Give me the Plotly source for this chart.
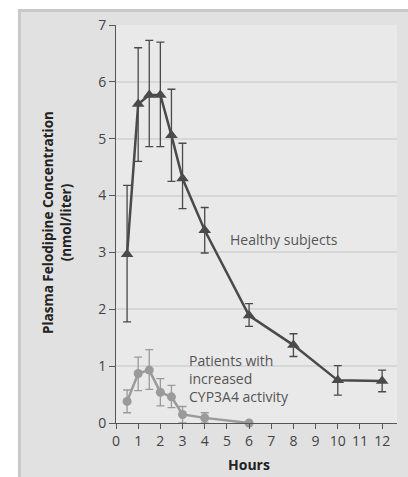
import plotly.graph_objects as go

hours_healthy = [0.5, 1, 1.5, 2, 2.5, 3, 4, 6, 8, 10, 12]
healthy = [2.97, 5.61, 5.77, 5.77, 5.06, 4.30, 3.39, 1.89, 1.37, 0.75, 0.74]
healthy_hi = [4.18, 6.60, 6.73, 6.70, 5.87, 4.92, 3.79, 2.10, 1.57, 1.01, 0.93]
healthy_lo = [1.78, 4.60, 4.86, 4.86, 4.25, 3.77, 2.99, 1.70, 1.17, 0.49, 0.55]

hours_pat = [0.5, 1, 1.5, 2, 2.5, 3, 4, 6]
patients = [0.38, 0.87, 0.93, 0.54, 0.46, 0.15, 0.09, 0.0]
patients_hi = [0.58, 1.16, 1.29, 0.78, 0.66, 0.29, 0.18, 0.0]
patients_lo = [0.18, 0.57, 0.59, 0.30, 0.27, 0.0, 0.0, 0.0]

x_ticks = list(range(0, 13))
y_ticks = list(range(0, 8))

FONT = "Open Sans"
W, H = 408, 477
L, R, T, B = 116, 11, 25, 54
pw, ph = W - L - R, H - T - B

def px_x(p):
    return (p - L) / pw

def px_y(p):
    return (H - B - p) / ph

fig = go.Figure()

fig.add_trace(go.Scatter(
    x=hours_pat, y=patients, mode="lines+markers",
    line=dict(color="#9a9a9a", width=2.5),
    marker=dict(symbol="circle", size=9, color="#9a9a9a"),
    error_y=dict(type="data", symmetric=False,
                 array=[h - v for h, v in zip(patients_hi, patients)],
                 arrayminus=[v - l for v, l in zip(patients, patients_lo)],
                 color="#9a9a9a", thickness=1.3, width=4),
    cliponaxis=False, showlegend=False))

fig.add_trace(go.Scatter(
    x=hours_healthy, y=healthy, mode="lines+markers",
    line=dict(color="#4a4a4a", width=2.5),
    marker=dict(symbol="triangle-up", size=11, color="#4a4a4a"),
    error_y=dict(type="data", symmetric=False,
                 array=[h - v for h, v in zip(healthy_hi, healthy)],
                 arrayminus=[v - l for v, l in zip(healthy, healthy_lo)],
                 color="#4a4a4a", thickness=1.3, width=4),
    cliponaxis=False, showlegend=False))

shapes = [
    dict(type="rect", xref="paper", yref="paper", layer="below",
         x0=px_x(19.5), x1=px_x(W + 10), y0=px_y(H + 10), y1=px_y(10.5),
         fillcolor="#e1e1e1", line=dict(color="#c9c9c9", width=3)),
    dict(type="rect", xref="paper", yref="paper", layer="below",
         x0=0, x1=1, y0=0, y1=1, fillcolor="#e9e9e9", line=dict(width=0)),
]

annotations = [
    dict(x=5.05, y=3.22, xref="x", yref="y", text="Healthy subjects",
         showarrow=False, xanchor="left", yanchor="middle",
         font=dict(family=FONT, size=14, color="#555555")),
    dict(x=3.2, y=0.79, xref="x", yref="y",
         text="Patients with<br>increased<br>CYP3A4 activity",
         showarrow=False, xanchor="left", yanchor="middle", align="left",
         font=dict(family=FONT, size=14, color="#555555")),
    dict(x=px_x(57), y=0.5025, xref="paper", yref="paper",
         text="<b>Plasma Felodipine Concentration<br>(nmol/liter)</b>",
         showarrow=False, textangle=-90, xanchor="center", yanchor="middle",
         font=dict(family=FONT, size=13.5, color="#222222")),
    dict(x=0.475, y=px_y(465), xref="paper", yref="paper",
         text="<b>Hours</b>", showarrow=False, xanchor="center", yanchor="middle",
         font=dict(family=FONT, size=14, color="#222222")),
]

fig.update_layout(
    width=W, height=H,
    margin=dict(l=L, r=R, t=T, b=B, pad=0),
    paper_bgcolor="white", plot_bgcolor="#e9e9e9",
    shapes=shapes, annotations=annotations,
    font=dict(family=FONT, size=14, color="#444444"),
    xaxis=dict(range=[0, 12.67], tickvals=x_ticks, ticktext=[str(t) for t in x_ticks],
               showgrid=False, zeroline=False, showline=True, linecolor="#555555",
               linewidth=1, ticks="outside", ticklen=5, tickcolor="#555555",
               tickfont=dict(family=FONT, size=14, color="#444444")),
    yaxis=dict(range=[0, 7], tickvals=y_ticks, ticktext=[str(t) for t in y_ticks],
               showgrid=True, gridcolor="#d7d7d7", gridwidth=1.5,
               zeroline=False, showline=True, linecolor="#555555",
               linewidth=1, ticks="outside", ticklen=6, tickcolor="#555555",
               tickfont=dict(family=FONT, size=14, color="#444444")),
)

fig.write_html("out.html")
